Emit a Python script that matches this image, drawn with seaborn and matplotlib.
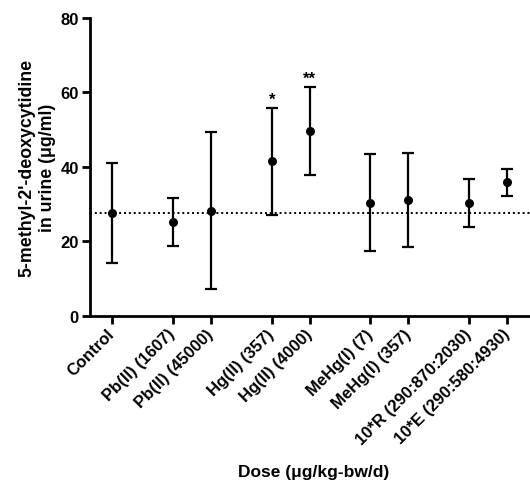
import numpy as np
import pandas as pd
import matplotlib
matplotlib.use("Agg")
import matplotlib.pyplot as plt
import seaborn as sns

# ---- data ----
groups = [
    ["Control"],
    ["Pb(II) (1607)", "Pb(II) (45000)"],
    ["Hg(II) (357)", "Hg(II) (4000)"],
    ["MeHg(I) (7)", "MeHg(I) (357)"],
    ["10*R (290:870:2030)", "10*E (290:580:4930)"],
]
means = [27.7, 25.3, 28.2, 41.5, 49.6, 30.4, 31.1, 30.4, 36.0]
upper = [41.1, 31.6, 49.5, 55.9, 61.5, 43.5, 43.7, 36.7, 39.5]
lower = [14.2, 18.9, 7.3, 27.0, 37.9, 17.4, 18.6, 24.0, 32.3]
stars = {"Hg(II) (357)": "*", "Hg(II) (4000)": "**"}
yticks = [0, 20, 40, 60, 80]

# ---- positions from group structure (gap between groups) ----
gap = 0.6
labels, xpos = [], []
p = None
for g in groups:
    for j, lab in enumerate(g):
        if p is None:
            p = 0.0
        else:
            p += 1.0 if j > 0 else 1.0 + gap
        labels.append(lab)
        xpos.append(p)

df = pd.DataFrame({"label": labels, "x": xpos, "mean": means,
                   "upper": upper, "lower": lower})

sns.set_theme(style="ticks")
plt.rcParams["font.family"] = ["Liberation Sans", "DejaVu Sans"]
plt.rcParams["font.weight"] = "bold"
for k in ["text.color", "axes.labelcolor", "xtick.color", "ytick.color",
          "axes.edgecolor"]:
    plt.rcParams[k] = "black"

fig = plt.figure(figsize=(5.30, 4.81), dpi=100)
ax = fig.add_axes([0.170, 0.341, 0.843, 0.6195])

# reference dotted line at control mean
ax.axhline(df["mean"].iloc[0], color="black", linestyle=(0, (1, 1.5)),
           linewidth=1.4, zorder=1)

ax.errorbar(df["x"], df["mean"],
            yerr=[df["mean"] - df["lower"], df["upper"] - df["mean"]],
            fmt="none", ecolor="black", elinewidth=1.6, capsize=4.5,
            capthick=1.6, zorder=2)
sns.scatterplot(data=df, x="x", y="mean", ax=ax, color="black", s=42,
                edgecolor="black", linewidth=0, zorder=3, legend=False)

for lab, st in stars.items():
    r = df[df["label"] == lab].iloc[0]
    ax.text(r["x"], r["upper"] + 0.3, st, ha="center", va="bottom",
            fontsize=12, fontweight="bold", color="black")

ax.set_ylim(0, 80)
ax.set_xlim(-0.58, 11.18)
ax.set_yticks(yticks)
ax.set_xticks(df["x"])
ax.set_xticklabels(df["label"], rotation=45, ha="right", va="center",
                   rotation_mode="anchor", fontsize=12, fontweight="bold")
for t in ax.get_yticklabels():
    t.set_fontsize(12)
    t.set_fontweight("bold")

ylab = ax.set_ylabel("5-methyl-2'-deoxycytidine\nin urine (\u03bcg/ml)",
                     fontsize=12.8, fontweight="bold", labelpad=3)
ylab.set_linespacing(1.3)
ax.set_xlabel("Dose (\u03bcg/kg-bw/d)", fontsize=12.5, fontweight="bold",
              labelpad=12)

for s in ["top", "right"]:
    ax.spines[s].set_visible(False)
for s in ["left", "bottom"]:
    ax.spines[s].set_linewidth(2.0)
ax.tick_params(axis="both", direction="out", length=6, width=2.0, pad=2)
ax.tick_params(axis="x", pad=5)
ax.set_facecolor("white")
fig.patch.set_facecolor("white")

fig.savefig("out.png", dpi=100, facecolor="white")
